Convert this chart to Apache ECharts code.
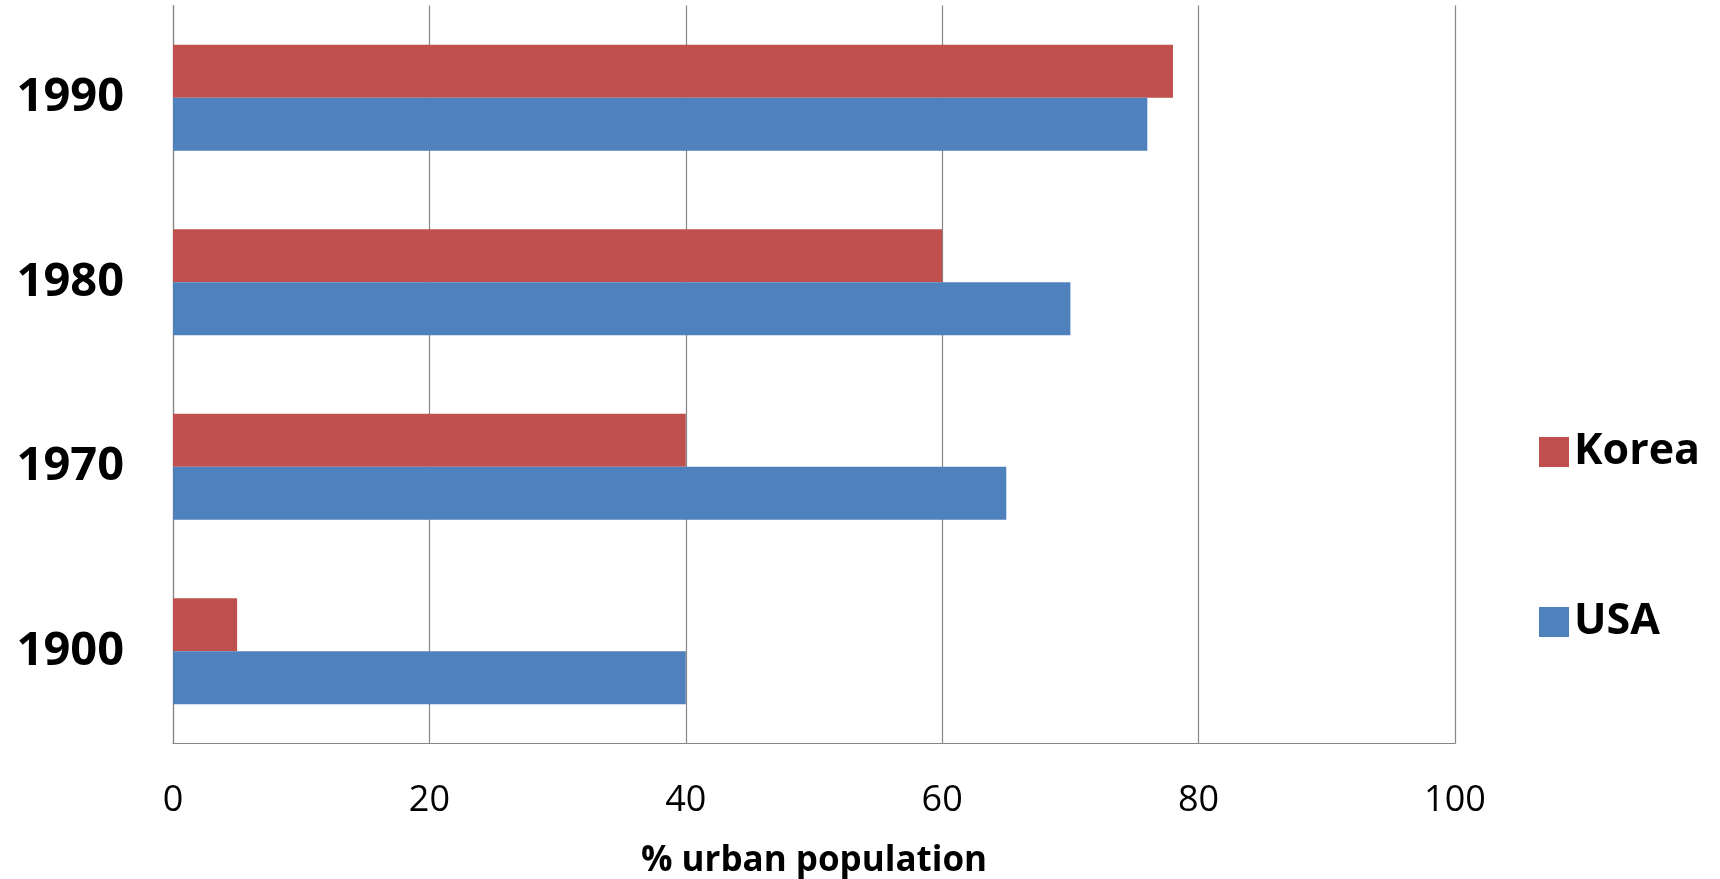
<!DOCTYPE html>
<html>
<head>
<meta charset="utf-8">
<script src="https://cdn.jsdelivr.net/npm/echarts@6/dist/echarts.min.js"></script>
<style>
  html, body { margin: 0; padding: 0; background: #ffffff; }
  #chart { width: 1720px; height: 879px; }
</style>
</head>
<body>
<div id="chart"></div>
<script>
// Share of population living in urban areas, by year
const years = ['1900', '1970', '1980', '1990'];
const koreaValues = [5, 40, 60, 78];
const usaValues = [40, 65, 70, 76];
const xTicks = [0, 20, 40, 60, 80, 100];

const FONT = '"Open Sans", "DejaVu Sans", sans-serif';
const GRID_GRAY = '#868686';

const chart = echarts.init(document.getElementById('chart'), null, { renderer: 'canvas' });

chart.setOption({
  animation: false,
  backgroundColor: '#ffffff',
  grid: {
    left: 173, right: 265, top: 5.5, bottom: 135.5,
    containLabel: false,
    outerBoundsMode: 'none'
  },
  legend: {
    orient: 'vertical',
    left: 1539,
    top: 430,
    padding: 0,
    icon: 'rect',
    itemWidth: 30,
    itemHeight: 30,
    itemGap: 126,
    itemTextGap: 14,
    data: ['Korea', 'USA'],
    textStyle: {
      fontFamily: FONT, fontWeight: 'bold', fontSize: 43, lineHeight: 44,
      color: '#000000', width: 100, overflow: 'none'
    }
  },
  xAxis: {
    type: 'value',
    min: xTicks[0],
    max: xTicks[xTicks.length - 1],
    interval: xTicks[1] - xTicks[0],
    name: '% urban population',
    nameLocation: 'middle',
    nameGap: 100,
    nameTextStyle: { fontFamily: FONT, fontWeight: 'bold', fontSize: 35, color: '#000000' },
    axisLine: { show: true, lineStyle: { color: GRID_GRAY, width: 1.2 } },
    axisTick: { show: false },
    axisLabel: { fontFamily: FONT, fontSize: 36, lineHeight: 36, color: '#000000', margin: 39 },
    splitLine: { show: true, lineStyle: { color: GRID_GRAY, width: 1.2 } }
  },
  yAxis: {
    type: 'category',
    data: years,
    axisLine: { show: true, lineStyle: { color: GRID_GRAY, width: 1.2 } },
    axisTick: { show: false },
    axisLabel: { fontFamily: FONT, fontWeight: 'bold', fontSize: 47, color: '#000000', margin: 49 },
    splitLine: { show: false }
  },
  series: [
    {
      name: 'Korea',
      type: 'bar',
      data: koreaValues,
      barGap: '0%',
      barCategoryGap: '42.6%',
      itemStyle: { color: '#C0504D' }
    },
    {
      name: 'USA',
      type: 'bar',
      data: usaValues,
      barGap: '0%',
      barCategoryGap: '42.6%',
      itemStyle: { color: '#4F81BD' }
    }
  ]
});
</script>
</body>
</html>
